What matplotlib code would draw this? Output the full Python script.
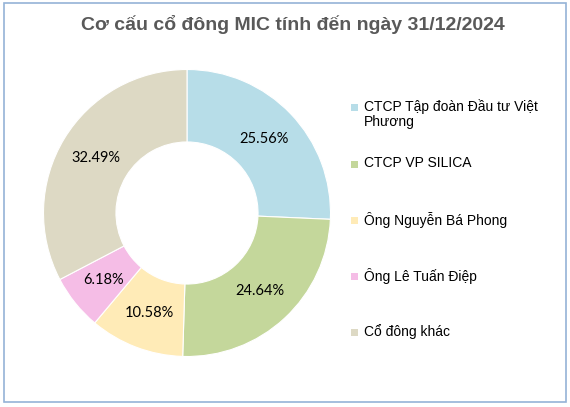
import matplotlib

matplotlib.use("Agg")
import matplotlib.pyplot as plt  # noqa: E402
from matplotlib import font_manager  # noqa: E402
from matplotlib.patches import Rectangle  # noqa: E402

# data
labels = ["CTCP Tập đoàn Đầu tư Việt\nPhương", "CTCP VP SILICA", "Ông Nguyễn Bá Phong",
          "Ông Lê Tuấn Điệp", "Cổ đông khác"]
shares = [25.56, 24.64, 10.58, 6.18, 32.49]
colors = ["#B7DDE8", "#C4D79B", "#FFEBB7", "#F5BDE6", "#DDD9C4"]
title = "Cơ cấu cổ đông MIC tính đến ngày 31/12/2024"

installed = {f.name for f in font_manager.fontManager.ttflist}
title_font = "Liberation Sans Narrow" if "Liberation Sans Narrow" in installed else "Liberation Sans"

W, H = 570, 407
fig = plt.figure(figsize=(W / 100, H / 100), dpi=100)
fig.patch.set_facecolor("white")
fig.add_artist(Rectangle((4 / W, 1 - 402 / H), 562 / W, 399 / H, transform=fig.transFigure,
                         fill=False, edgecolor="#95B3D7", lw=1.2))

fig.text(293 / W, 1 - 24 / H, title, ha="center", va="center", fontsize=14,
         fontweight="bold", color="#595959", family=title_font)

# donut: centre (187, 213), outer radius ~143.5 px
R = 143.5
cx, cy = 187, 213
ax = fig.add_axes([(cx - R) / W, 1 - (cy + R) / H, 2 * R / W, 2 * R / H])
wedges, _ = ax.pie(shares, colors=colors, startangle=90, counterclock=False,
                   radius=1.0, wedgeprops=dict(width=0.505, edgecolor="white", lw=0.8))
import numpy as np  # noqa: E402
total = sum(shares)
start = 90.0
for v in shares:
    mid = np.deg2rad(start - v / total * 360 / 2)
    start -= v / total * 360
    ax.text(0.745 * np.cos(mid), 0.745 * np.sin(mid), f"{v:.2f}%", ha="center", va="center",
            fontsize=10.5, family="Lato", color="black")
ax.set_xlim(-1, 1)
ax.set_ylim(-1, 1)
ax.set_aspect("equal")
ax.axis("off")

# legend, drawn by hand to follow the reference spacing
ys = [107, 164, 220, 276, 332]
for lab, col, y in zip(labels, colors, ys):
    fig.add_artist(Rectangle((351 / W, 1 - (y + 4) / H), 7 / W, 7 / H, transform=fig.transFigure,
                             facecolor=col, edgecolor="none"))
    fig.text(364 / W, 1 - (y - 8) / H, lab, ha="left", va="top", fontsize=10,
             family="Liberation Sans", color="black", linespacing=1.15)

fig.savefig("out.png", dpi=100)
